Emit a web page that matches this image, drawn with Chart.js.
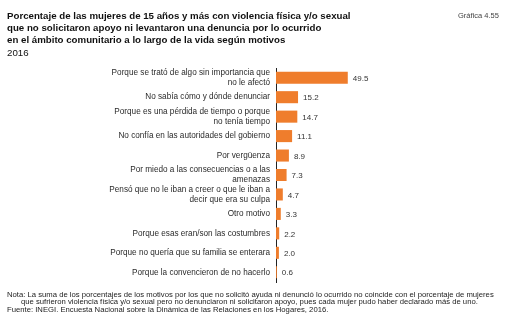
<!DOCTYPE html>
<html>
<head>
<meta charset="utf-8">
<script src="https://cdn.jsdelivr.net/npm/chart.js@4"></script>
<style>
    body { margin: 0; background: #fff; font-family: "Liberation Sans", Arial, sans-serif; }
    #wrap { position: relative; width: 512px; height: 323px; overflow: hidden; }
    #mainChart { position: absolute; left: 0; top: 0; }
    .title { position: absolute; left: 7px; top: 10px; font-size: 9.7px; font-weight: bold; line-height: 12.2px; color: #111; white-space: nowrap; }
    .title span { font-weight: normal; }
    .num { position: absolute; left: 458px; top: 11px; font-size: 7.5px; color: #444; }
    .notes { position: absolute; left: 7px; top: 291px; font-size: 7.7px; line-height: 7.4px; color: #222; white-space: nowrap; }
    .notes .ind { padding-left: 14px; }
</style>
</head>
<body>
<div id="wrap">
    <canvas id="mainChart" width="512" height="323"></canvas>
    <div class="title">
        Porcentaje de las mujeres de 15 años y más con violencia física y/o sexual<br>
        que no solicitaron apoyo ni levantaron una denuncia por lo ocurrido<br>
        en el ámbito comunitario a lo largo de la vida según motivos<br>
        <span>2016</span>
    </div>
    <div class="num">Gráfica 4.55</div>
    <div class="notes">
        Nota: La suma de los porcentajes de los motivos por los que no solicitó ayuda ni denunció lo ocurrido no coincide con el porcentaje de mujeres<br>
        <div class="ind">que sufrieron violencia física y/o sexual pero no denunciaron ni solicitaron apoyo, pues cada mujer pudo haber declarado más de uno.</div>
        Fuente: INEGI. Encuesta Nacional sobre la Dinámica de las Relaciones en los Hogares, 2016.
    </div>
</div>
<script>
// Motivos (categorias) y porcentajes
const motivos = [
    ['Porque se trató de algo sin importancia que', 'no le afectó'],
    'No sabía cómo y dónde denunciar',
    ['Porque es una pérdida de tiempo o porque', 'no tenía tiempo'],
    'No confía en las autoridades del gobierno',
    'Por vergüenza',
    ['Por miedo a las consecuencias o a las', 'amenazas'],
    ['Pensó que no le iban a creer o que le iban a', 'decir que era su culpa'],
    'Otro motivo',
    'Porque esas eran/son las costumbres',
    'Porque no quería que su familia se enterara',
    'Porque la convencieron de no hacerlo'
];
const porcentajes = [49.5, 15.2, 14.7, 11.1, 8.9, 7.3, 4.7, 3.3, 2.2, 2.0, 0.6];

// Draw the value next to each bar
const valueLabels = {
    id: 'valueLabels',
    afterDatasetsDraw(chart) {
        const ctx = chart.ctx;
        ctx.save();
        ctx.font = '8px "Liberation Sans", Arial, sans-serif';
        ctx.fillStyle = '#333';
        ctx.textBaseline = 'middle';
        chart.getDatasetMeta(0).data.forEach((bar, i) => {
            ctx.fillText(porcentajes[i].toFixed(1), bar.x + 5, bar.y + 1);
        });
        ctx.restore();
    }
};

new Chart(document.getElementById('mainChart'), {
    type: 'bar',
    data: {
        labels: motivos,
        datasets: [{
            data: porcentajes,
            backgroundColor: '#EF7D2C',
            borderWidth: 0,
            categoryPercentage: 1,
            barPercentage: 0.62
        }]
    },
    options: {
        indexAxis: 'y',
        responsive: false,
        animation: false,
        layout: { padding: { left: 0, top: 68, right: 149, bottom: 41 } },
        plugins: { legend: { display: false }, tooltip: { enabled: false } },
        scales: {
            x: { display: false, min: 0, max: 60 },
            y: {
                afterFit: (scale) => { scale.width = 276; },
                grid: { display: true, drawOnChartArea: false, drawTicks: false },
                border: { display: true, color: '#222', width: 1 },
                ticks: {
                    autoSkip: false,
                    padding: 6,
                    color: '#2a2a2a',
                    font: { family: '"Liberation Sans", Arial, sans-serif', size: 8.2, lineHeight: 1.25 }
                }
            }
        }
    },
    plugins: [valueLabels]
});
</script>
</body>
</html>
